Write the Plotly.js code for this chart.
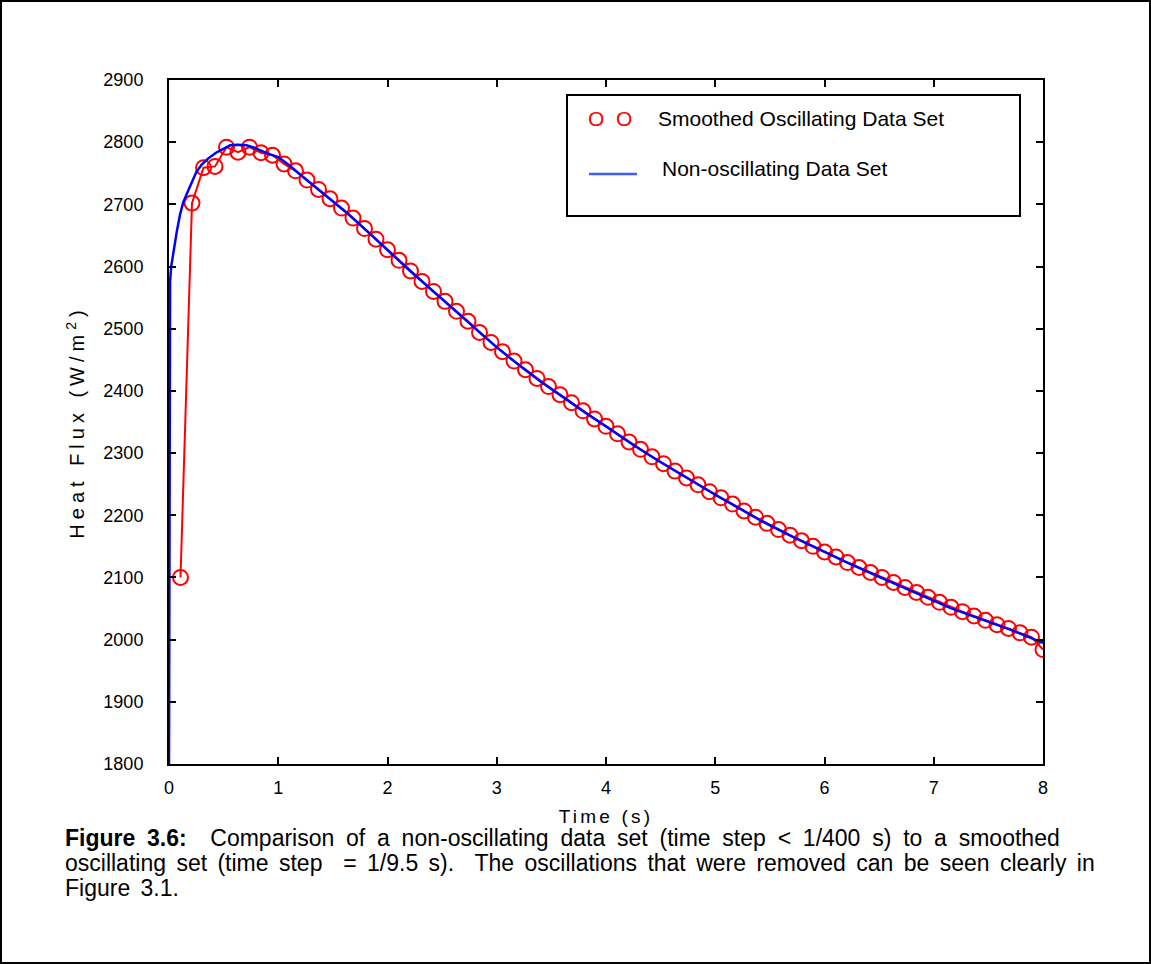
<!DOCTYPE html>
<html>
<head>
<meta charset="utf-8">
<script src="https://cdn.plot.ly/plotly-3.0.1.min.js"></script>
<style>
  html, body { margin: 0; padding: 0; background: #fff; }
  #wrap { position: relative; width: 1151px; height: 964px; }
  #chart { width: 1151px; height: 964px; }
  #frame { position: absolute; left: 0; top: 0; width: 1147px; height: 960px; border: 2px solid #000; pointer-events: none; }
  .xtitle { letter-spacing: 3.2px; }
  .ytitle { letter-spacing: 5px; }
  .annotation[data-index="3"] text { word-spacing: 5.4px; }
  .annotation[data-index="4"] text { word-spacing: 4px; }
  .annotation[data-index="5"] text { word-spacing: 4px; }
</style>
</head>
<body>
<div id="wrap"><div id="chart"></div><div id="frame"></div></div>
<script>
// Smoothed oscillating data set (time step = 1/9.5 s): marker index k -> t = k/9.5
const smoothedIndex = [1,2,3,4,5,6,7,8,9,10,11,12,13,14,15,16,17,18,19,20,
  21,22,23,24,25,26,27,28,29,30,31,32,33,34,35,36,37,38,39,40,
  41,42,43,44,45,46,47,48,49,50,51,52,53,54,55,56,57,58,59,60,
  61,62,63,64,65,66,67,68,69,70,71,72,73,74,75,76];
const smoothedFlux = [2100,2702,2759,2761,2792,2784,2792,2783,2779,2765,
  2754,2739,2724,2709,2694,2678,2661,2644,2627,2610,
  2593,2576,2560,2544,2528,2512,2494,2478,2463,2448,
  2434,2420,2407,2394,2381,2368,2355,2343,2331,2318,
  2306,2294,2283,2271,2260,2249,2238,2228,2218,2207,
  2197,2187,2177,2168,2159,2150,2141,2133,2124,2116,
  2108,2100,2092,2084,2076,2068,2060,2052,2045,2038,
  2031,2024,2018,2011,2004,1984];
const smoothedStep = 9.5;

// Non-oscillating data set (time step < 1/400 s)
const fineTime = [0,0.003,0.006,0.01,0.02,0.03,0.046,0.07,0.1,0.13,0.17,0.21,0.25,0.3,0.36,0.43,0.5,0.56,0.63,0.71,0.78,0.83,0.9,1.0,1.1,1.2,1.35,1.5,1.63,1.8,2.0,2.2,2.4,2.6,2.83,3.0,3.2,3.4,3.64,3.8,4.0,4.25,4.494,4.75,5.0,5.2,5.41,5.7,6.0,6.233,6.5,6.8,7.15,7.4,7.7,8.0];
const fineFlux = [1790,2300,2500,2576,2600,2612,2630,2655,2683,2703,2720,2737,2752,2764,2774,2783,2790,2795,2796,2795,2791,2787,2782,2776,2763,2748,2726,2705,2686,2659,2626,2594,2563,2532,2496,2470,2442,2415,2386,2366,2343,2313,2286,2259,2233,2213,2192,2166,2141,2122,2101,2078,2051,2035,2016,1995];

const xTicks = [0,1,2,3,4,5,6,7,8];
const yTicks = [1800,1900,2000,2100,2200,2300,2400,2500,2600,2700,2800,2900];

const legendLabels = ['Smoothed Oscillating Data Set', 'Non-oscillating Data Set'];
const xTitle = 'Time (s)';
const yTitle = 'Heat Flux (W/m<sup>2</sup>)';
const captionLines = [
  '<b>Figure 3.6:</b>\u00a0 Comparison of a non-oscillating data set (time step &lt; 1/400 s) to a smoothed',
  'oscillating set (time step \u00a0= 1/9.5 s).\u00a0 The oscillations that were removed can be seen clearly in',
  'Figure 3.1.'
];

const smoothedTime = smoothedIndex.map(k => k / smoothedStep);

const FONT = 'Arial, "Liberation Sans", Helvetica, sans-serif';

const traces = [
  {
    x: smoothedTime, y: smoothedFlux, type: 'scatter', mode: 'lines+markers',
    name: legendLabels[0], showlegend: false,
    line: {color: '#ff0000', width: 2},
    marker: {symbol: 'circle-open', size: 15, color: '#ff0000', line: {width: 2, color: '#ff0000'}}
  },
  {
    x: fineTime, y: fineFlux, type: 'scatter', mode: 'lines',
    name: legendLabels[1], showlegend: false,
    line: {color: '#0000ff', width: 2.5}
  }
];

// plot area in pixels: left 169, right 1043, top 80, bottom 764
const L = 169, R = 1043, T = 80, B = 764;
const px = v => (v - L) / (R - L);
const py = v => (B - v) / (B - T);

const layout = {
  width: 1151, height: 964,
  margin: {l: L, r: 1151 - R, t: T, b: 964 - B},
  paper_bgcolor: '#ffffff', plot_bgcolor: '#ffffff',
  font: {family: FONT, size: 18, color: '#000'},
  showlegend: false,
  xaxis: {
    range: [0, 8], tickvals: xTicks, ticks: 'inside', ticklen: 7, tickwidth: 2, tickcolor: '#000',
    showline: true, linecolor: '#000', linewidth: 2, mirror: 'ticks', showgrid: false, zeroline: false,
    tickfont: {family: FONT, size: 18}, ticklabelstandoff: 6,
    title: {text: xTitle, font: {family: FONT, size: 19}, standoff: 13}
  },
  yaxis: {
    range: [1800, 2900], tickvals: yTicks, ticks: 'inside', ticklen: 7, tickwidth: 2, tickcolor: '#000',
    showline: true, linecolor: '#000', linewidth: 2, mirror: 'ticks', showgrid: false, zeroline: false,
    tickfont: {family: FONT, size: 18}, ticklabelstandoff: 20,
    title: {text: yTitle, font: {family: FONT, size: 20}, standoff: 13}
  },
  shapes: [
    {type: 'rect', xref: 'paper', yref: 'paper', x0: px(567), x1: px(1020), y0: py(216), y1: py(95),
     line: {color: '#000', width: 2}, fillcolor: '#ffffff', layer: 'above'},
    {type: 'line', xref: 'paper', yref: 'paper', x0: px(589), x1: px(637), y0: py(174), y1: py(174),
     line: {color: '#3d5cff', width: 2.5}, layer: 'above'}
  ],
  annotations: [
    {xref: 'paper', yref: 'paper', x: px(610), y: py(119), text: 'O\u00a0 O', showarrow: false,
     xanchor: 'center', yanchor: 'middle', font: {family: FONT, size: 21, color: '#ff0000'}},
    {xref: 'paper', yref: 'paper', x: px(656), y: py(119), text: legendLabels[0], showarrow: false,
     xanchor: 'left', yanchor: 'middle', font: {family: FONT, size: 21, color: '#000'}},
    {xref: 'paper', yref: 'paper', x: px(660), y: py(168), text: legendLabels[1], showarrow: false,
     xanchor: 'left', yanchor: 'middle', font: {family: FONT, size: 21, color: '#000'}},
    {xref: 'paper', yref: 'paper', x: px(63), y: py(838), text: captionLines[0], showarrow: false,
     xanchor: 'left', yanchor: 'middle', align: 'left', font: {family: FONT, size: 23, color: '#000'}},
    {xref: 'paper', yref: 'paper', x: px(63), y: py(863), text: captionLines[1], showarrow: false,
     xanchor: 'left', yanchor: 'middle', align: 'left', font: {family: FONT, size: 23, color: '#000'}},
    {xref: 'paper', yref: 'paper', x: px(63), y: py(888), text: captionLines[2], showarrow: false,
     xanchor: 'left', yanchor: 'middle', align: 'left', font: {family: FONT, size: 23, color: '#000'}}
  ]
};

Plotly.newPlot('chart', traces, layout, {displayModeBar: false, staticPlot: true});
</script>
</body>
</html>
